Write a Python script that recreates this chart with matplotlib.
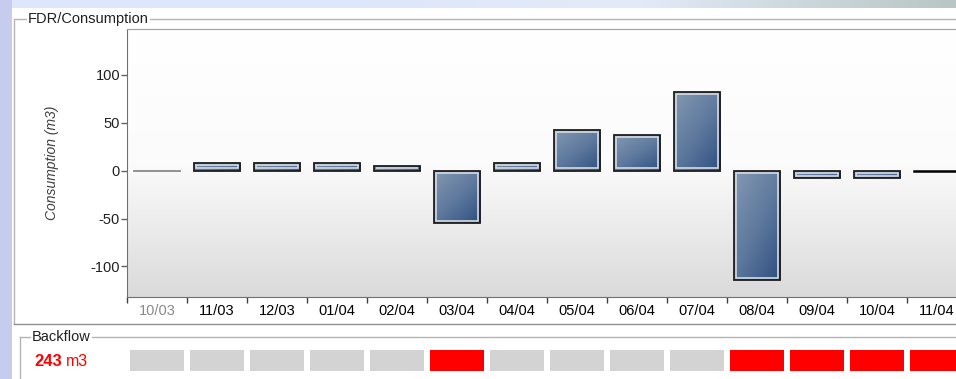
import matplotlib.pyplot as plt
import numpy as np
from matplotlib.patches import Rectangle
from matplotlib.colors import LinearSegmentedColormap

plt.rcParams['font.family'] = ['Liberation Sans', 'DejaVu Sans']

# data
days = ['10/03', '11/03', '12/03', '01/04', '02/04', '03/04', '04/04',
        '05/04', '06/04', '07/04', '08/04', '09/04', '10/04', '11/04']
consumption = [0, 8, 8, 8, 5, -55, 8, 43, 37, 82, -114, -8, -8, 0]
backflow = [0, 0, 0, 0, 0, 1, 0, 0, 0, 0, 1, 1, 1, 1]
backflow_total = 243
yticks = [-100, -50, 0, 50, 100]

W, H = 956, 379
fig = plt.figure(figsize=(W / 100, H / 100), dpi=100)
fig.patch.set_facecolor('white')

def px(x0, y0, x1, y1):
    # pixel box -> figure fraction [left, bottom, width, height]
    return [x0 / W, 1 - y1 / H, (x1 - x0) / W, (y1 - y0) / H]

# window background stripes
bg = fig.add_axes([0, 0, 1, 1], zorder=-10)
bg.axis('off')
top_cmap = LinearSegmentedColormap.from_list('t', ['#dde6fb', '#dde6fb', '#e3ebf8', '#b8c6c4'])
bg.imshow(np.linspace(0, 1, 200).reshape(1, -1), cmap=top_cmap, extent=(0, W, 8, 0), aspect='auto')
bg.add_patch(Rectangle((0, 0), 12, H, color='#c6ccee', lw=0))
bg.set_xlim(0, W)
bg.set_ylim(H, 0)

# group boxes
gc = '#b4b4b4'
bg.plot([14, 14, W], [324, 19, 19], color=gc, lw=1)
bg.plot([14, W], [324, 324], color='#909090', lw=1)
bg.text(28, 19, 'FDR/Consumption', fontsize=10.5, va='center', ha='left',
        color='#202020', bbox=dict(facecolor='white', edgecolor='none', pad=1))
bg.plot([20, 20], [H, 337], color=gc, lw=1)
bg.plot([20, W], [337, 337], color=gc, lw=1)
bg.text(32, 337, 'Backflow', fontsize=10.5, va='center', ha='left',
        color='#202020', bbox=dict(facecolor='white', edgecolor='none', pad=1))
bg.text(34, 361, str(backflow_total), fontsize=12, fontweight='bold', color='red', va='center')
bg.text(66, 361, 'm3', fontsize=11.5, color='red', va='center')

# consumption chart (right side runs past the figure edge)
ax = fig.add_axes(px(127, 29, 967, 297))
n = len(days)

# plot area: white at top fading to light grey at the bottom
bgc = LinearSegmentedColormap.from_list('g', ['#ffffff', '#fbfbfb', '#dadada'])
ax.imshow(np.linspace(0, 1, 256).reshape(-1, 1), cmap=bgc, aspect='auto',
          extent=(-0.5, n - 0.5, -132, 148), origin='upper', zorder=0)

bar_cmap = LinearSegmentedColormap.from_list('b', ['#8498b2', '#5f7a9e', '#2e5080'])
gx, gy = np.meshgrid(np.linspace(0, 1, 40), np.linspace(0, 1, 40))
grad = (gx * 0.45 + gy * 0.55)

bars = ax.bar(range(n), consumption, width=0.78, facecolor='none', zorder=3)
for i, b in enumerate(bars):
    v = consumption[i]
    x0 = b.get_x()
    w = b.get_width()
    if v == 0:
        col = '#8a8a8a' if i == 0 else 'black'
        ax.plot([x0, x0 + w], [0, 0], color=col, lw=1.3 if i == 0 else 1.8, zorder=4)
        continue
    lo, hi = min(0, v), max(0, v)
    im = ax.imshow(grad, cmap=bar_cmap, aspect='auto', extent=(x0, x0 + w, lo, hi),
                   origin='upper', zorder=2, interpolation='bilinear')
    im.set_clip_path(b)
    dx, dy = 2.2 / 60, 2.3
    ax.add_patch(Rectangle((x0 + dx, lo + dy), w - 2 * dx, max(hi - lo - 2 * dy, 0.2),
                           facecolor='none', edgecolor='#d4dae2', lw=1.2, zorder=3))
    b.set_edgecolor('#1e1e1e')
    b.set_linewidth(1.3)
    b.set_zorder(4)

ax.set_xlim(-0.5, n - 0.5)
ax.set_ylim(-132, 148)
ax.set_yticks(yticks)
ax.set_yticklabels([str(t) for t in yticks], fontsize=10.5, color='#202020')
ax.tick_params(axis='y', direction='out', length=4, width=1, color='#606060', pad=1)
ax.set_xticks(range(n))
ax.set_xticklabels(days, fontsize=10.5)
ax.get_xticklabels()[0].set_color('#8a8a8a')
ax.tick_params(axis='x', which='major', length=0, pad=5)
ax.set_xticks(np.arange(-0.5, n, 1), minor=True)
ax.tick_params(axis='x', which='minor', direction='out', length=4, width=1, color='#404040')
ax.set_ylabel('Consumption (m3)', fontsize=10, style='italic', color='#404040', labelpad=23)
for s in ['left', 'bottom']:
    ax.spines[s].set_color('#707070')
ax.spines['top'].set_color('#a0a0a0')
ax.spines['right'].set_visible(False)

# backflow strip
ax2 = fig.add_axes(px(127, 350, 967, 371))
ax2.set_xlim(-0.5, n - 0.5)
ax2.set_ylim(0, 1)
ax2.bar(range(n), [1] * n, width=0.9,
        color=['red' if f else '#d3d3d3' for f in backflow], edgecolor='none')
ax2.axis('off')

fig.savefig('out.png', dpi=100)
